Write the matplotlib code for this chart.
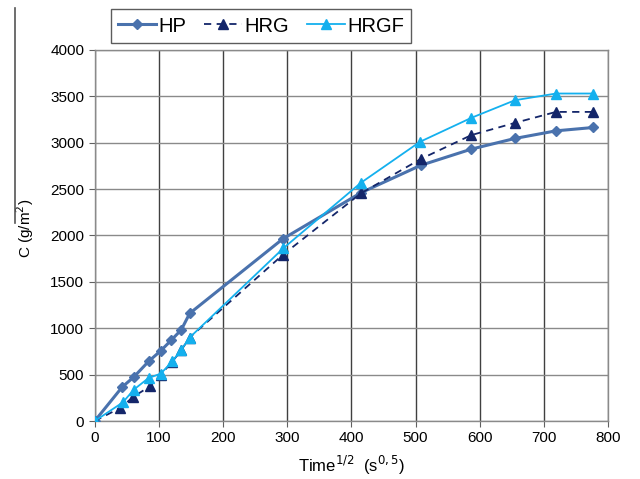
import matplotlib
matplotlib.use("Agg")
import matplotlib.pyplot as plt
from matplotlib.lines import Line2D

plt.rcParams['font.family'] = ['Liberation Sans', 'DejaVu Sans']

hp_x = [0, 43, 61, 84, 103, 119, 135, 148, 293, 415, 508, 587, 655, 719, 777]
hp_y = [0, 368, 475, 643, 758, 869, 984, 1160, 1962, 2460, 2755, 2930, 3045, 3127, 3163]

hrg_x = [0, 40, 60, 86, 103, 121, 135, 148, 293, 415, 508, 587, 655, 719, 777]
hrg_y = [0, 142, 260, 374, 500, 640, 765, 900, 1790, 2454, 2823, 3081, 3213, 3331, 3331]

hrgf_x = [0, 44, 61, 84, 103, 121, 135, 148, 294, 415, 507, 587, 655, 719, 777]
hrgf_y = [0, 202, 339, 464, 511, 643, 769, 900, 1862, 2568, 3009, 3267, 3457, 3529, 3529]

c_hp = '#4a72ad'
c_hrg = '#14266a'
c_hrgf = '#14b0ee'

fig = plt.figure(figsize=(6.4, 4.79), dpi=100)
ax = fig.add_axes([0.148, 0.121, 0.802, 0.775])

ax.plot(hp_x, hp_y, color=c_hp, lw=2.2, marker='D', ms=5.5, zorder=3, label='HP')
ax.plot(hrg_x, hrg_y, color=c_hrg, lw=1.3, ls=(0, (4, 3)), marker='^', ms=6.5, zorder=4, label='HRG')
ax.plot(hrgf_x, hrgf_y, color=c_hrgf, lw=1.3, marker='^', ms=6.5, zorder=5, label='HRGF')

ax.set_xlim(0, 800)
ax.set_ylim(0, 4000)
ax.set_xticks(range(0, 801, 100))
ax.set_yticks(range(0, 4001, 500))
ax.grid(True, axis='x', color='#404040', lw=1.0)
ax.grid(True, axis='y', color='#8a8a8a', lw=1.0)
ax.set_axisbelow(True)
for s in ax.spines.values():
    s.set_color('#8a8a8a')
    s.set_linewidth(1.0)
ax.tick_params(labelsize=11, color='#606060', length=4, direction='out')

ax.set_xlabel('Time$^{1/2}$  (s$^{0,5}$)', fontsize=12, labelpad=6)
ax.set_ylabel('C (g/m$^2$)', fontsize=11, labelpad=14)
ax.yaxis.set_label_coords(-0.115, 0.52)

fig.add_artist(Line2D([15/640, 15/640], [1 - 8/479, 1 - 223/479], color='#555555', lw=1.2))

leg = fig.legend(handles=ax.get_lines(), loc='center', bbox_to_anchor=(261/640, 1 - 26/479),
                 ncol=3, fontsize=14.5, frameon=True, fancybox=False, edgecolor='#333333',
                 handlelength=1.9, columnspacing=0.9, handletextpad=0.1, borderpad=0.35,
                 borderaxespad=0)
leg.get_frame().set_linewidth(1.0)

fig.savefig('out.png', dpi=100)
